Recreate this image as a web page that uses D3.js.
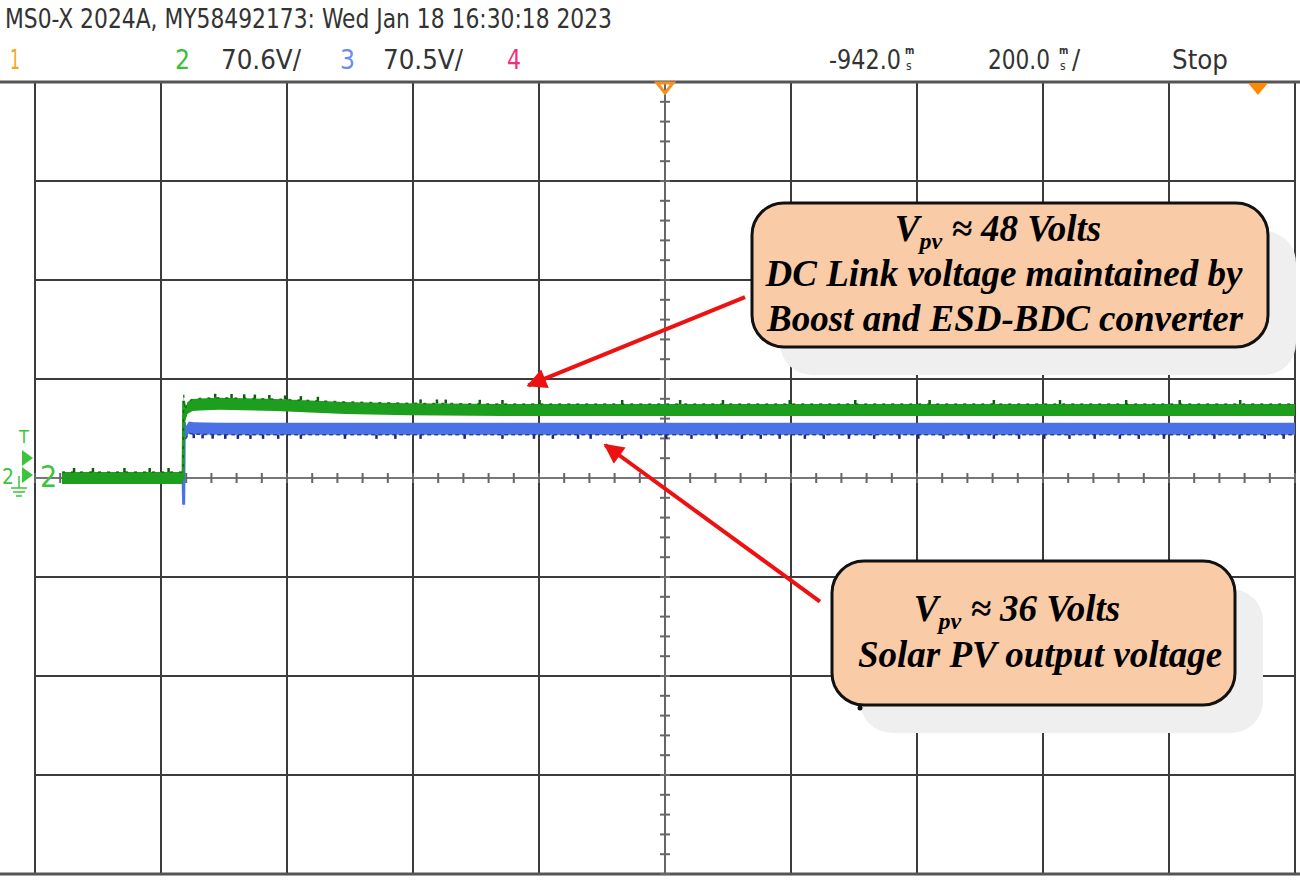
<!DOCTYPE html>
<html>
<head>
<meta charset="utf-8">
<script src="https://cdn.jsdelivr.net/npm/d3@7"></script>
<style>
  body { margin: 0; background: #fff; }
  svg { display: block; }
</style>
</head>
<body>
<div id="scope"></div>
<script>
// scope settings
const voltsPerDiv = [70.6, 70.5];   // ch2, ch3
const msPerDiv = 200;
const delayMs = -942;

// ch2 (green) trace: time ms, volts
const greenTime = [-1899, -1707, -1706, -1704, -1700, -1692, -1680, -1650, -1560, -1450, -1350, -1200, 58];
const greenVolt = [0, 0, 55, 44, 50, 52, 52.5, 53, 52, 50, 49, 48.5, 48.5];
// ch3 (blue) trace
const blueTime = [-1899, -1707, -1706, -1705, -1703, -1698, -1690, -1650, 58];
const blueVolt = [0, 0, -19, 40, 32, 36, 35.5, 35, 35];

// little glitch spikes seen on the traces (ms)
const greenGlitch = [-1880, -1850, -1800, -1760, -1730, -1656, -1630, -1610, -1593, -1570, -1545, -1520, -1493, -1330, -1304, -1290, -1236, -1200, -1141, -1010, -918, -850, -744, -640, -522, -420, -315, -210, -125, -29];
const blueGlitch = [-1690, -1676, -1660, -1640, -1620, -1600, -1580, -1556, -1520, -1450, -1400, -1370, -1330, -1260, -1200, -1150, -1120, -1080, -1060, -1010, -980, -940, -900, -860, -820, -790, -760, -720, -690, -650, -610, -570, -540, -500, -460, -420, -380, -340, -300, -260, -220, -190, -150, -110, -70, -30, 10, 40];

// annotation boxes
const notes = [
  { lines: ["≈ 48 Volts", "DC Link voltage maintained by", "Boost and ESD-BDC converter"],
    tipTime: -1159, tipVolt: 66, tailTime: -815, tailVolt: 129 },
  { lines: ["≈ 36 Volts", "Solar PV output voltage"],
    tipTime: -1037, tipVolt: 23.5, tailTime: -696, tailVolt: -88 }
];

const W = 1300, H = 880;
const pLeft = 35, pRight = 1295, pTop = 82, pBottom = 874;

const svg = d3.select("#scope").append("svg")
  .attr("width", W)
  .attr("height", H)

// scales
const xScale = d3.scaleLinear()
  .domain([delayMs - 5 * msPerDiv, delayMs + 5 * msPerDiv])
  .range([pLeft, pRight])
const yGreen = d3.scaleLinear()
  .domain([-4 * voltsPerDiv[0], 4 * voltsPerDiv[0]])
  .range([pBottom, pTop])
const yBlue = d3.scaleLinear()
  .domain([-4 * voltsPerDiv[1], 4 * voltsPerDiv[1]])
  .range([pBottom, pTop])

// grid
const vDivs = d3.range(0, 11).map(i => delayMs - 5 * msPerDiv + i * msPerDiv)
const hDivs = d3.range(-4, 5).map(i => i * voltsPerDiv[0])

svg.selectAll(".vgrid").data(vDivs).enter().append("line")
  .attr("x1", d => xScale(d)).attr("x2", d => xScale(d))
  .attr("y1", pTop).attr("y2", pBottom)
  .attr("stroke", "#3c3c3c").attr("stroke-width", 2)

svg.selectAll(".hgrid").data(hDivs).enter().append("line")
  .attr("x1", pLeft).attr("x2", pRight)
  .attr("y1", d => yGreen(d)).attr("y2", d => yGreen(d))
  .attr("stroke", d => d === 0 ? "#777" : "#3c3c3c").attr("stroke-width", 2)

// outer frame (top and bottom run across the whole width)
svg.append("line").attr("x1", 0).attr("x2", W).attr("y1", pTop).attr("y2", pTop)
  .attr("stroke", "#555").attr("stroke-width", 3)
svg.append("line").attr("x1", 0).attr("x2", W).attr("y1", pBottom).attr("y2", pBottom)
  .attr("stroke", "#555").attr("stroke-width", 3)

// minor ticks on centre axes
const xMinor = d3.range(0, 51).map(i => delayMs - 5 * msPerDiv + i * msPerDiv / 5)
const yMinor = d3.range(-20, 21).map(i => i * voltsPerDiv[0] / 5)
svg.selectAll(".xtick").data(xMinor).enter().append("line")
  .attr("x1", d => xScale(d)).attr("x2", d => xScale(d))
  .attr("y1", yGreen(0) - 5).attr("y2", yGreen(0) + 5)
  .attr("stroke", "#666").attr("stroke-width", 2)
svg.selectAll(".ytick").data(yMinor).enter().append("line")
  .attr("x1", xScale(delayMs) - 5).attr("x2", xScale(delayMs) + 5)
  .attr("y1", d => yGreen(d)).attr("y2", d => yGreen(d))
  .attr("stroke", "#666").attr("stroke-width", 2)
svg.append("line")
  .attr("x1", xScale(delayMs)).attr("x2", xScale(delayMs))
  .attr("y1", pTop).attr("y2", pBottom)
  .attr("stroke", "#666").attr("stroke-width", 2)

// traces
function drawTrace(times, volts, yS, fill, edge, glitches, glitchUp) {
  const pts = times.map((t, i) => [t, volts[i]])
  const band = d3.area()
    .x(d => xScale(d[0]))
    .y0(d => yS(d[1]) - 6)
    .y1(d => yS(d[1]) + 6)
  svg.append("path").attr("d", band(pts)).attr("fill", fill)
  const ln = d3.line().x(d => xScale(d[0])).y(d => yS(d[1]))
  svg.append("path").attr("d", ln(pts))
    .attr("fill", "none").attr("stroke", fill).attr("stroke-width", 3)

  // rough, dotted edge of the band
  const edgeLine = d3.line().x(d => xScale(d[0])).y(d => yS(d[1]) + (glitchUp ? -6 : 6))
  svg.append("path").attr("d", edgeLine(pts.slice(glitchUp ? 0 : 4)))
    .attr("fill", "none").attr("stroke", edge).attr("stroke-width", 1.5)
    .attr("stroke-dasharray", glitchUp ? "3,6" : "4,3").attr("opacity", 0.8)

  const lvl = d3.scaleLinear().domain(times).range(volts)
  svg.selectAll(null).data(glitches).enter().append("line")
    .attr("x1", d => xScale(d)).attr("x2", d => xScale(d))
    .attr("y1", d => yS(lvl(d)) + (glitchUp ? -6 : 6))
    .attr("y2", d => yS(lvl(d)) + (glitchUp ? -10 : 10))
    .attr("stroke", edge).attr("stroke-width", 2.5)
}

drawTrace(blueTime, blueVolt, yBlue, "#4a72e6", "#1a2580", blueGlitch, false)
drawTrace(greenTime, greenVolt, yGreen, "#1e9e1e", "#0c5c0c", greenGlitch, true)

// header
const hdrFont = "'Liberation Sans Narrow', 'DejaVu Sans Condensed', 'Liberation Sans', sans-serif"
svg.append("text").attr("x", 5).attr("y", 28)
  .attr("font-family", hdrFont).attr("font-size", 27).attr("fill", "#333")
  .attr("textLength", 607).attr("lengthAdjust", "spacingAndGlyphs")
  .text("MS0-X 2024A, MY58492173: Wed Jan 18 16:30:18 2023")

const hdr2 = [
  { t: "1", x: 10, w: 10, c: "#f5a623" },
  { t: "2", x: 175, w: 15, c: "#3cbf3c" },
  { t: "70.6V/", x: 221, w: 80, c: "#333" },
  { t: "3", x: 340, w: 15, c: "#6f8cf0" },
  { t: "70.5V/", x: 383, w: 80, c: "#333" },
  { t: "4", x: 507, w: 14, c: "#f0307a" },
  { t: "-942.0", x: 829, w: 72, c: "#333" },
  { t: "200.0", x: 988, w: 62, c: "#333" },
  { t: "Stop", x: 1172, w: 56, c: "#333" }
]
svg.selectAll(".hdr2").data(hdr2).enter().append("text")
  .attr("x", d => d.x).attr("y", 69)
  .attr("font-family", hdrFont).attr("font-size", 27).attr("fill", d => d.c)
  .attr("textLength", d => d.w).attr("lengthAdjust", "spacingAndGlyphs")
  .text(d => d.t)

// stacked unit glyphs (m over s)
const units = [ { x: 905, slash: false }, { x: 1059, slash: true } ]
units.forEach(u => {
  svg.append("text").attr("x", u.x).attr("y", 54).attr("font-family", hdrFont)
    .attr("font-size", 10).attr("font-weight", "bold").attr("fill", "#333").text("m")
  svg.append("text").attr("x", u.x + 1).attr("y", 70).attr("font-family", hdrFont)
    .attr("font-size", 12).attr("fill", "#333").text("s")
  if (u.slash) svg.append("text").attr("x", u.x + 13).attr("y", 69).attr("font-family", hdrFont)
    .attr("font-size", 27).attr("fill", "#333").text("/")
})

// trigger markers at top
svg.append("path")
  .attr("d", `M${xScale(delayMs) - 8},${pTop + 1} L${xScale(delayMs) + 8},${pTop + 1} L${xScale(delayMs)},${pTop + 11} Z`)
  .attr("fill", "none").attr("stroke", "#f5901e").attr("stroke-width", 3)
svg.append("path")
  .attr("d", `M1248,${pTop + 1} L1268,${pTop + 1} L1258,${pTop + 13} Z`)
  .attr("fill", "#ff8a00")

// channel 2 ground marker on the left
const g0 = yGreen(0)
const mk = svg.append("g").attr("fill", "#3cc43c").attr("stroke", "#3cc43c")
mk.append("text").attr("x", 19).attr("y", g0 - 35).attr("font-family", hdrFont)
  .attr("font-size", 18).attr("stroke", "none").text("T")
mk.append("path").attr("d", `M22,${g0 - 28} L33,${g0 - 20} L22,${g0 - 12} Z`).attr("stroke", "none")
mk.append("path").attr("d", `M22,${g0 - 11} L33,${g0 - 3} L22,${g0 + 5} Z`).attr("stroke", "none")
mk.append("text").attr("x", 2).attr("y", g0 + 6).attr("font-family", hdrFont)
  .attr("font-size", 21).attr("stroke", "none").text("2")
mk.append("path").attr("fill", "none").attr("stroke-width", 1.5)
  .attr("d", `M19,${g0 - 2} L19,${g0 + 10} M11,${g0 + 10} L27,${g0 + 10} M13,${g0 + 14} L25,${g0 + 14} M16,${g0 + 18} L22,${g0 + 18}`)
mk.append("text").attr("x", 40).attr("y", g0 + 9).attr("font-family", hdrFont)
  .attr("font-size", 30).attr("stroke", "none").text("2")

// annotation boxes
const boxes = [
  { x: 752, y: 203, w: 516, h: 144, cx: [998, 1004, 1005], base: [241, 286, 331] },
  { x: 832, y: 561, w: 403, h: 144, cx: [1017, 1040], base: [621, 667] }
]

// arrow heads
svg.append("defs").append("marker")
  .attr("id", "ah").attr("viewBox", "0 0 10 10")
  .attr("refX", 9).attr("refY", 5)
  .attr("markerWidth", 6).attr("markerHeight", 5).attr("orient", "auto")
  .append("path").attr("d", "M0,0 L10,5 L0,10 Z").attr("fill", "#ee1111")

notes.forEach((n, i) => {
  const b = boxes[i]
  svg.append("rect").attr("x", b.x + 28).attr("y", b.y + 28).attr("width", b.w).attr("height", b.h)
    .attr("rx", 32).attr("fill", "#efefef")
  svg.append("rect").attr("x", b.x).attr("y", b.y).attr("width", b.w).attr("height", b.h)
    .attr("rx", 32).attr("fill", "#f9cba7").attr("stroke", "#111").attr("stroke-width", 3)

  const txt = svg.append("g").attr("font-family", "'Liberation Serif', 'Times New Roman', serif")
    .attr("font-weight", "bold").attr("font-style", "italic").attr("font-size", 37)
    .attr("fill", "#000").attr("text-anchor", "middle")
  n.lines.forEach((l, j) => {
    const t = txt.append("text").attr("x", b.cx[j]).attr("y", b.base[j])
    if (j === 0) {
      t.append("tspan").text("V")
      t.append("tspan").attr("dy", 8).attr("font-size", 24).text("pv")
      t.append("tspan").attr("dy", -8).text(" " + l)
    } else {
      t.text(l)
    }
  })

  svg.append("line")
    .attr("x1", xScale(n.tailTime)).attr("y1", i === 0 ? yGreen(n.tailVolt) : yBlue(n.tailVolt))
    .attr("x2", xScale(n.tipTime)).attr("y2", i === 0 ? yGreen(n.tipVolt) : yBlue(n.tipVolt))
    .attr("stroke", "#ee1111").attr("stroke-width", 4)
    .attr("marker-end", "url(#ah)")
})

svg.append("circle").attr("cx", 860).attr("cy", 708).attr("r", 2.5).attr("fill", "#111")
</script>
</body>
</html>
